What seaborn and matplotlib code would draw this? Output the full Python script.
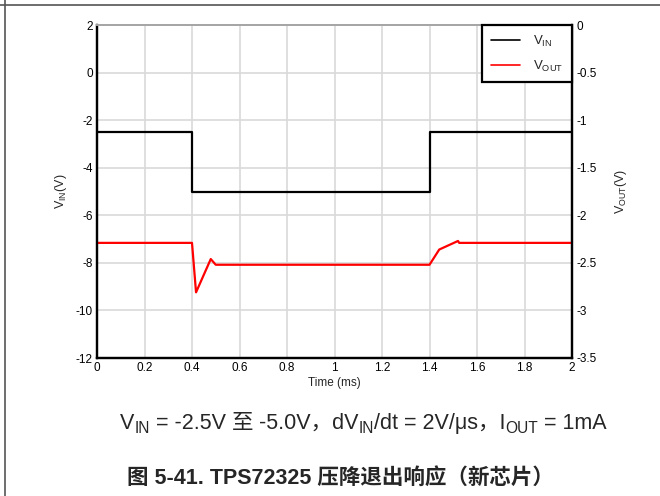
import matplotlib
matplotlib.use("Agg")
import matplotlib.pyplot as plt
from matplotlib.lines import Line2D
from matplotlib.transforms import IdentityTransform
import seaborn as sns
import pandas as pd

# Input voltage step (left axis), time in ms
vin_time = [0.0, 0.40, 0.40, 1.40, 1.40, 2.0]
vin_volts = [-2.5, -2.5, -5.0, -5.0, -2.5, -2.5]

# Output voltage response (right axis)
vout_time = [0.0, 0.400, 0.417, 0.479, 0.500, 1.400, 1.441, 1.520, 1.525, 2.0]
vout_volts = [-2.29, -2.29, -2.81, -2.46, -2.52, -2.52, -2.36, -2.27, -2.29, -2.29]

x_ticks = [0, 0.2, 0.4, 0.6, 0.8, 1.0, 1.2, 1.4, 1.6, 1.8, 2.0]
x_tick_labels = ["0", "0.2", "0.4", "0.6", "0.8", "1", "1.2", "1.4", "1.6", "1.8", "2"]
left_ticks = [2, 0, -2, -4, -6, -8, -10, -12]
right_ticks = [0, -0.5, -1, -1.5, -2, -2.5, -3, -3.5]
right_tick_labels = ["0", "-0.5", "-1", "-1.5", "-2", "-2.5", "-3", "-3.5"]

caption_parts = [("V", False), ("IN", True), (" = -2.5V ", False), ("至", False),
                 (" -5.0V，dV", False), ("IN", True), ("/dt = 2V/μs，I", False),
                 ("OUT", True), (" = 1mA", False)]
title_text = "图 5-41. TPS72325 压降退出响应（新芯片）"

sns.set_style("white")
plt.rcParams["font.family"] = ["Liberation Sans", "Noto Sans CJK SC"]
plt.rcParams["mathtext.fontset"] = "custom"
plt.rcParams["mathtext.rm"] = "Liberation Sans"
plt.rcParams["axes.unicode_minus"] = False

W, H = 660, 496
fig = plt.figure(figsize=(W / 100, H / 100), dpi=100)
ax = fig.add_axes([97 / W, 1 - 358 / H, (572 - 97) / W, (358 - 25) / H])
ax2 = ax.twinx()

vin_df = pd.DataFrame({"t": vin_time, "v": vin_volts})
vout_df = pd.DataFrame({"t": vout_time, "v": vout_volts})
sns.lineplot(data=vin_df, x="t", y="v", ax=ax, color="black", lw=1.6,
             sort=False, estimator=None)
sns.lineplot(data=vout_df, x="t", y="v", ax=ax2, color="#ff0000", lw=1.6,
             sort=False, estimator=None)

ax.set_xlim(0, 2)
ax.set_ylim(-12, 2)
ax2.set_ylim(-3.5, 0)
ax.set_xticks(x_ticks)
ax.set_xticklabels(x_tick_labels)
ax.set_yticks(left_ticks)
ax2.set_yticks(right_ticks)
ax2.set_yticklabels(right_tick_labels)

grid_color = "#d9d9d9"
ax.grid(True, color=grid_color, lw=1.2)
ax.set_axisbelow(True)
ax2.grid(False)

for a in (ax, ax2):
    a.tick_params(length=0, labelsize=8.5, pad=3, colors="black")
    for side in ("left", "right", "bottom"):
        a.spines[side].set_color("black")
        a.spines[side].set_linewidth(1.6)
    a.spines["top"].set_color("#a6a6a6")
    a.spines["top"].set_linewidth(1.4)

ax.set_xlabel("Time (ms)", fontsize=8.5, labelpad=2)
ax.set_ylabel(r"$\mathregular{V_{IN}(V)}$", fontsize=9, labelpad=5)
ax2.set_ylabel(r"$\mathregular{V_{OUT}(V)}$", fontsize=9, labelpad=12)

handles = [Line2D([], [], color="black", lw=1.2),
           Line2D([], [], color="#ff0000", lw=1.2)]
leg = ax2.legend(handles, [r"$\mathregular{V_{IN}}$", r"$\mathregular{V_{OUT}}$"],
                 loc="upper right", bbox_to_anchor=(1.0, 1.0), fontsize=9.5,
                 frameon=True, fancybox=False, framealpha=1, edgecolor="black",
                 borderpad=0.65, handlelength=2.2, handletextpad=1.0,
                 labelspacing=0.75, borderaxespad=0)
leg.get_frame().set_linewidth(1.6)

# Figure frame lines at the top and left edges
fig.add_artist(Line2D([4.5 / W, 4.5 / W], [0, 1], transform=fig.transFigure,
                      color="#555555", lw=1.2))
fig.add_artist(Line2D([0, 1], [1 - 5 / H, 1 - 5 / H], transform=fig.transFigure,
                      color="#555555", lw=1.2))

# Caption with subscripts, laid out piece by piece in pixel coordinates
renderer = fig.canvas.get_renderer()
cap_size = 15.5
x_px = 120.0
base_y = H - 429
for text, sub in caption_parts:
    size = cap_size * 0.72 if sub else cap_size
    y = base_y - (cap_size * 0.28 if sub else 0)
    t = fig.text(x_px, y, text, fontsize=size, transform=IdentityTransform(),
                 ha="left", va="baseline")
    x_px = t.get_window_extent(renderer).x1

fig.text(127 / W, 1 - 478 / H, title_text, fontsize=15.5, fontweight="bold",
         ha="left", va="center")

fig.savefig("out.png", dpi=100)
